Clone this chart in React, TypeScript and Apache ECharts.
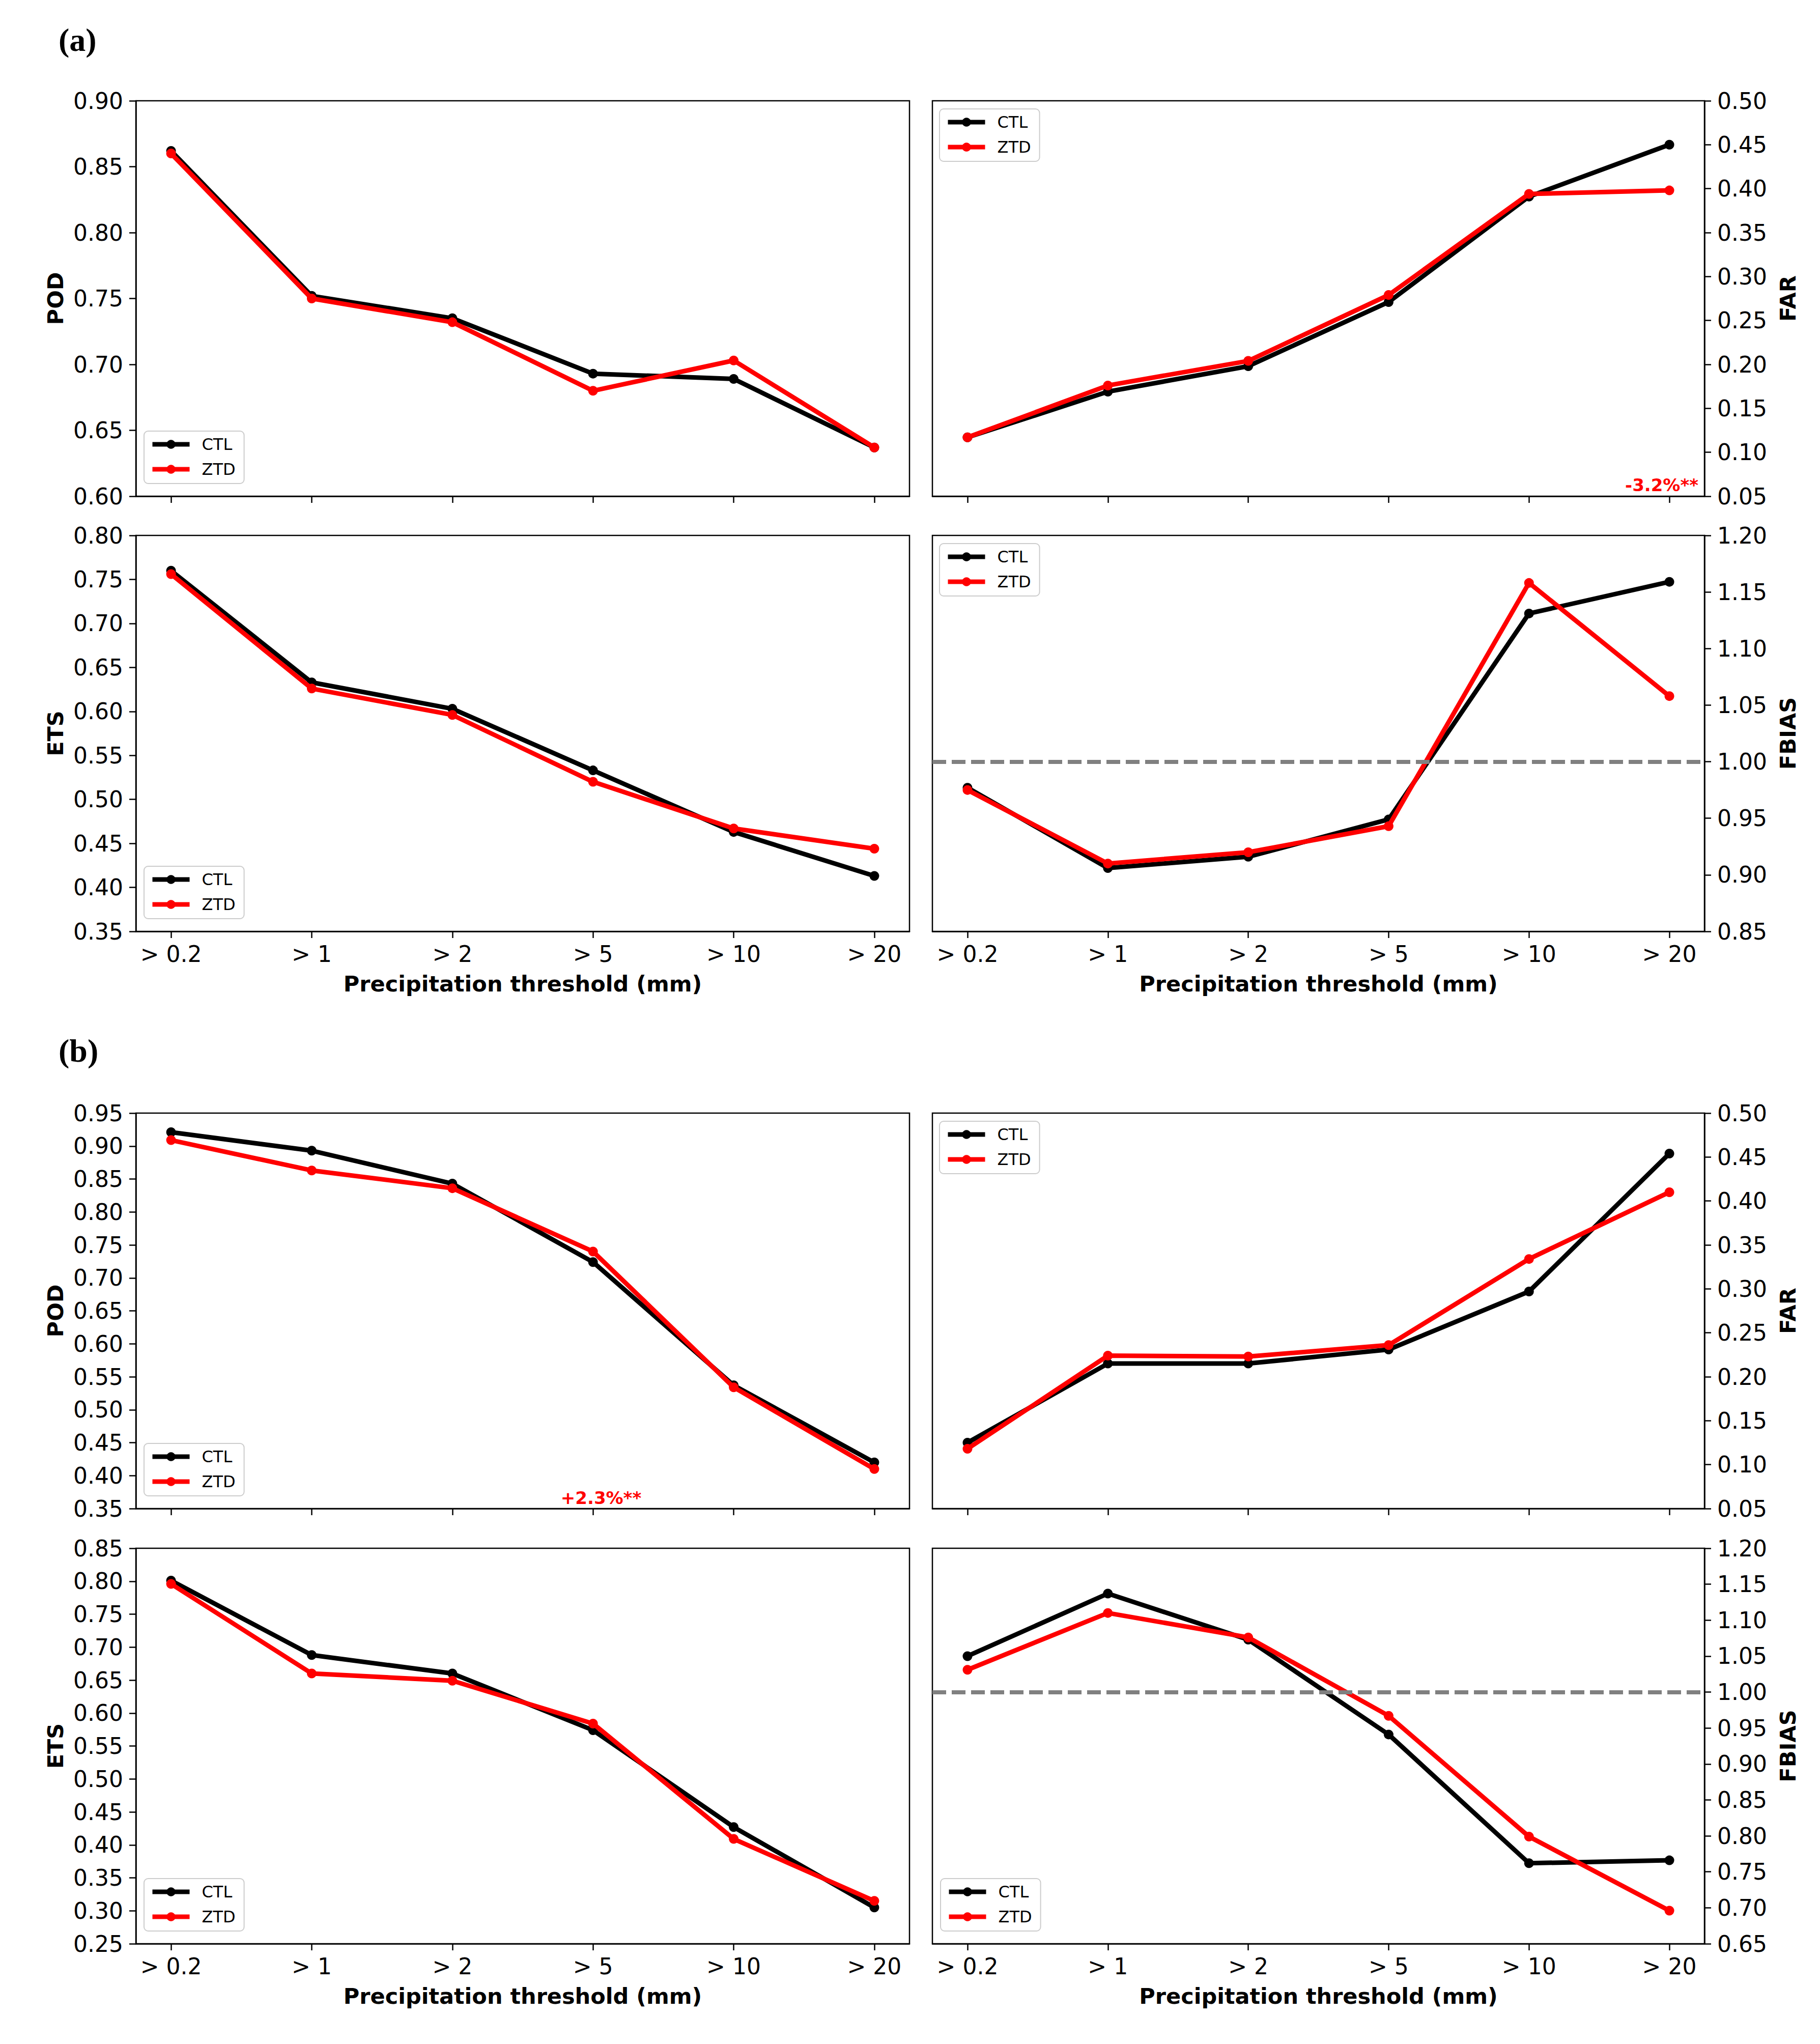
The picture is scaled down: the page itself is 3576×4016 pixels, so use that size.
import React, { useEffect, useRef } from "react";
import * as echarts from "echarts";

const thresholds = ["> 0.2", "> 1", "> 2", "> 5", "> 10", "> 20"];
const seriesNames = ["CTL", "ZTD"];

// (a)
const podA_CTL = [0.862, 0.752, 0.735, 0.693, 0.689, 0.637];
const podA_ZTD = [0.86, 0.75, 0.732, 0.68, 0.703, 0.637];
const farA_CTL = [0.117, 0.169, 0.198, 0.271, 0.391, 0.45];
const farA_ZTD = [0.117, 0.176, 0.204, 0.279, 0.394, 0.398];
const etsA_CTL = [0.76, 0.633, 0.603, 0.533, 0.463, 0.413];
const etsA_ZTD = [0.756, 0.626, 0.596, 0.52, 0.467, 0.444];
const fbiasA_CTL = [0.977, 0.906, 0.916, 0.949, 1.131, 1.159];
const fbiasA_ZTD = [0.975, 0.91, 0.92, 0.943, 1.158, 1.058];
// (b)
const podB_CTL = [0.921, 0.893, 0.843, 0.724, 0.537, 0.42];
const podB_ZTD = [0.909, 0.863, 0.836, 0.74, 0.534, 0.41];
const farB_CTL = [0.125, 0.215, 0.215, 0.231, 0.297, 0.454];
const farB_ZTD = [0.118, 0.224, 0.223, 0.236, 0.334, 0.41];
const etsB_CTL = [0.801, 0.688, 0.66, 0.574, 0.427, 0.305];
const etsB_ZTD = [0.796, 0.66, 0.649, 0.584, 0.409, 0.315];
const fbiasB_CTL = [1.05, 1.137, 1.073, 0.941, 0.762, 0.766];
const fbiasB_ZTD = [1.031, 1.11, 1.076, 0.967, 0.799, 0.696];

// y ranges [min, max]
const podA_range = [0.6, 0.9];
const farA_range = [0.05, 0.5];
const etsA_range = [0.35, 0.8];
const fbiasA_range = [0.85, 1.2];
const podB_range = [0.35, 0.95];
const farB_range = [0.05, 0.5];
const etsB_range = [0.25, 0.85];
const fbiasB_range = [0.65, 1.2];
const yInterval = 0.05;

const xLabelName = "Precipitation threshold (mm)";
const annotA = "-3.2%**";
const annotB = "+2.3%**";

const cols = [
  { left: 267, width: 1520 },
  { left: 1832, width: 1517 },
];
const rows = [
  { top: 198, height: 777 },
  { top: 1052, height: 778 },
  { top: 2187, height: 777 },
  { top: 3042, height: 777 },
];

const panels = [
  { name: "POD", row: 0, col: 0, range: podA_range, ctl: podA_CTL, ztd: podA_ZTD, legend: "bl", xl: false, ref: false },
  { name: "FAR", row: 0, col: 1, range: farA_range, ctl: farA_CTL, ztd: farA_ZTD, legend: "tl", xl: false, ref: false },
  { name: "ETS", row: 1, col: 0, range: etsA_range, ctl: etsA_CTL, ztd: etsA_ZTD, legend: "bl", xl: true, ref: false },
  { name: "FBIAS", row: 1, col: 1, range: fbiasA_range, ctl: fbiasA_CTL, ztd: fbiasA_ZTD, legend: "tl", xl: true, ref: true },
  { name: "POD", row: 2, col: 0, range: podB_range, ctl: podB_CTL, ztd: podB_ZTD, legend: "bl", xl: false, ref: false },
  { name: "FAR", row: 2, col: 1, range: farB_range, ctl: farB_CTL, ztd: farB_ZTD, legend: "tl", xl: false, ref: false },
  { name: "ETS", row: 3, col: 0, range: etsB_range, ctl: etsB_CTL, ztd: etsB_ZTD, legend: "bl", xl: true, ref: false },
  { name: "FBIAS", row: 3, col: 1, range: fbiasB_range, ctl: fbiasB_CTL, ztd: fbiasB_ZTD, legend: "bl", xl: true, ref: true },
];

const FONT = "DejaVu Sans";
const tickIdx = [0, 1, 2, 3, 4, 5];
const LW = 9;

function buildOption() {
  const grid: any[] = [];
  const xAxis: any[] = [];
  const yAxis: any[] = [];
  const series: any[] = [];
  const legend: any[] = [];

  panels.forEach((p, i) => {
    const c = cols[p.col];
    const r = rows[p.row];
    grid.push({
      left: c.left,
      top: r.top,
      width: c.width,
      height: r.height,
      show: true,
      borderColor: "#000",
      borderWidth: 2.5,
      containLabel: false,
    });
    xAxis.push({
      type: "value",
      gridIndex: i,
      min: -0.25,
      max: 5.25,
      axisLine: { show: true, onZero: false, lineStyle: { color: "#000", width: 2.5 } },
      axisTick: { show: true, customValues: tickIdx, length: 13, lineStyle: { color: "#000", width: 2.5 } },
      axisLabel: {
        show: p.xl,
        customValues: tickIdx,
        formatter: (v: number) => thresholds[Math.round(v)],
        fontSize: 44,
        fontFamily: FONT,
        color: "#000",
        margin: 22,
      },
      splitLine: { show: false },
      name: p.xl ? xLabelName : "",
      nameLocation: "middle",
      nameGap: 81,
      nameTextStyle: { fontSize: 43, fontWeight: "bold", fontFamily: FONT, color: "#000" },
    });
    const right = p.col === 1;
    yAxis.push({
      type: "value",
      gridIndex: i,
      min: p.range[0],
      max: p.range[1],
      interval: yInterval,
      position: right ? "right" : "left",
      axisLine: { show: true, onZero: false, lineStyle: { color: "#000", width: 2.5 } },
      axisTick: { show: true, length: 13, lineStyle: { color: "#000", width: 2.5 } },
      axisLabel: {
        formatter: (v: number) => v.toFixed(2),
        fontSize: 44,
        fontFamily: FONT,
        color: "#000",
        margin: 25,
      },
      splitLine: { show: false },
      name: p.name,
      nameLocation: "middle",
      nameRotate: 90,
      nameGap: right ? 142 : 137,
      nameTextStyle: { fontSize: 43, fontWeight: "bold", fontFamily: FONT, color: "#000" },
    });
    if (p.ref) {
      series.push({
        type: "line",
        name: "ref" + i,
        xAxisIndex: i,
        yAxisIndex: i,
        data: [],
        silent: true,
        z: 1,
        markLine: {
          silent: true,
          symbol: "none",
          label: { show: false },
          lineStyle: { color: "#808080", width: 8, type: [27, 11] },
          data: [{ yAxis: 1 }],
        },
      });
    }
    [p.ctl, p.ztd].forEach((vals, k) => {
      const color = k === 0 ? "#000000" : "#ff0000";
      series.push({
        type: "line",
        name: seriesNames[k],
        xAxisIndex: i,
        yAxisIndex: i,
        data: vals.map((v, j) => [j, v]),
        symbol: "circle",
        symbolSize: 19,
        lineStyle: { color, width: LW },
        itemStyle: { color },
        z: 2 + k,
      });
    });
    const lLeft = p.legend === "tl" ? c.left + 14 : c.left + 16;
    const lTop = p.legend === "tl" ? r.top + 16 : r.top + r.height - 18 - 110;
    legend.push({
      data: seriesNames,
      orient: "vertical",
      left: lLeft,
      top: lTop,
      itemWidth: 73,
      itemHeight: 22,
      itemGap: 17,
      padding: [10, 17, 12, 12],
      backgroundColor: "#ffffff",
      borderColor: "#cccccc",
      borderWidth: 2,
      borderRadius: 8,
      selectedMode: false,
      lineStyle: { width: LW },
      textStyle: { fontSize: 32, fontFamily: FONT, color: "#000", padding: [0, 0, 0, 19] },
    });
  });

  const graphic: any[] = [
    {
      type: "text",
      x: 115,
      y: 78,
      style: { text: "(a)", fontSize: 64, fontWeight: "bold", fontFamily: "Liberation Serif", fill: "#000", align: "left", verticalAlign: "middle" },
    },
    {
      type: "text",
      x: 115,
      y: 2064,
      style: { text: "(b)", fontSize: 64, fontWeight: "bold", fontFamily: "Liberation Serif", fill: "#000", align: "left", verticalAlign: "middle" },
    },
    {
      type: "text",
      x: 3337,
      y: 970,
      z: 10,
      style: { text: annotA, fontSize: 34, fontWeight: "bold", fontFamily: FONT, fill: "#ff0000", align: "right", verticalAlign: "bottom" },
    },
    {
      type: "text",
      x: 1181,
      y: 2960,
      z: 10,
      style: { text: annotB, fontSize: 34, fontWeight: "bold", fontFamily: FONT, fill: "#ff0000", align: "center", verticalAlign: "bottom" },
    },
  ];

  return {
    animation: false,
    backgroundColor: "#ffffff",
    grid,
    xAxis,
    yAxis,
    series,
    legend,
    graphic,
  };
}

export default function App() {
  const ref = useRef<HTMLDivElement>(null);
  useEffect(() => {
    if (!ref.current) return;
    const chart = echarts.init(ref.current, undefined, { renderer: "svg" });
    chart.setOption(buildOption() as any);
    return () => chart.dispose();
  }, []);
  return (
    <div
      ref={ref}
      style={{ position: "absolute", left: 0, top: 0, width: 3576, height: 4016, background: "#fff" }}
    />
  );
}
